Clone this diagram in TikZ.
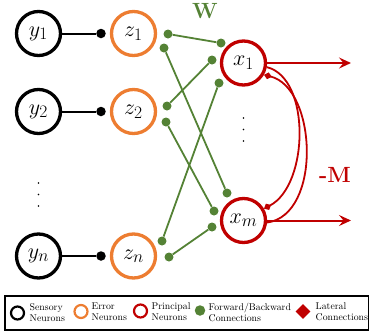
\documentclass[tikz,border=0pt]{standalone}
\usepackage{fix-cm}
\DeclareMathSizes{22}{22}{17.5}{14}
\usetikzlibrary{arrows.meta,shapes.geometric}
\definecolor{errorc}{HTML}{ED7D31}
\definecolor{greenc}{HTML}{548235}
\definecolor{redc}{HTML}{C00000}
\begin{document}
\begin{tikzpicture}[x=1pt,y=-1pt,
  neuron/.style={circle,draw,line width=3.3pt,minimum size=44pt,inner sep=0pt,font=\fontsize{22}{26}\selectfont},
  sens/.style={neuron,draw=black},
  err/.style={neuron,draw=errorc},
  prin/.style={neuron,draw=redc},
  bkline/.style={draw=black,line width=2pt},
  bkdot/.style={circle,fill=black,inner sep=0pt,minimum size=9.5pt},
  ffline/.style={draw=greenc,line width=1.8pt},
  ffdot/.style={circle,fill=greenc,inner sep=0pt,minimum size=9pt},
  outarrow/.style={draw=redc,line width=2pt,-{Stealth[length=12pt,width=11pt,inset=4.5pt]}},
  latline/.style={draw=redc,line width=1.8pt,-{Diamond[length=8pt,width=7pt]}},
  vdot/.style={circle,fill=black,inner sep=0pt,minimum size=1.9pt},
  lbl/.style={font=\fontsize{22}{26}\selectfont\bfseries},
  legtext/.style={anchor=west,align=left,inner sep=0pt,font=\fontsize{9.8}{11}\selectfont},
  legcirc/.style={circle,draw,line width=2.2pt,minimum size=13pt,inner sep=0pt}
]
\useasboundingbox (0,0) rectangle (370,335);

% neurons
\node[sens] (y1) at (38.5,33.5) {$y_1$};
\node[sens] (y2) at (38.5,111.5) {$y_2$};
\node[sens] (yn) at (38.5,256) {$y_n$};
\node[err] (z1) at (133.5,33.5) {$z_1$};
\node[err] (z2) at (133.5,111.5) {$z_2$};
\node[err] (zn) at (133.5,256) {$z_n$};
\node[prin] (x1) at (243.5,63) {$x_1$};
\node[prin] (xm) at (243.5,220.5) {$x_m$};

% vertical dots
\node[vdot] (l1) at (38.5,183) {};
\node[vdot] (l2) at (38.5,194.5) {};
\node[vdot] (l3) at (38.5,206) {};
\node[vdot] (m1) at (243.5,118) {};
\node[vdot] (m2) at (243.5,129.5) {};
\node[vdot] (m3) at (243.5,141) {};

% sensory -> error
\node[bkdot] (k1) at (101,33.5) {};
\node[bkdot] (k2) at (101,111.5) {};
\node[bkdot] (kn) at (101,256) {};
\draw[bkline] (y1.east) -- (k1);
\draw[bkline] (y2.east) -- (k2);
\draw[bkline] (yn.east) -- (kn);

% forward/backward connections
\node[ffdot] (a1) at (168,34) {};
\node[ffdot] (a2) at (164,48) {};
\node[ffdot] (c1) at (167,106) {};
\node[ffdot] (c2) at (166,122) {};
\node[ffdot] (e1) at (162,241) {};
\node[ffdot] (e2) at (169,257) {};
\node[ffdot] (b1) at (221,43) {};
\node[ffdot] (b2) at (212,60) {};
\node[ffdot] (b3) at (219,83) {};
\node[ffdot] (d1) at (227,193) {};
\node[ffdot] (d2) at (214,211) {};
\node[ffdot] (d3) at (212,227) {};
\draw[ffline] (a1) -- (b1);
\draw[ffline] (a2) -- (d1);
\draw[ffline] (c1) -- (b2);
\draw[ffline] (c2) -- (d2);
\draw[ffline] (e1) -- (b3);
\draw[ffline] (e2) -- (d3);

% outputs
\coordinate (o1) at (351,63);
\coordinate (om) at (351,220.5);
\draw[outarrow] (x1.east) -- (o1);
\draw[outarrow] (xm.east) -- (om);

% lateral connections
\draw[latline] (x1.-10) .. controls (311,78) and (309,185) .. (xm.30);
\draw[latline] (xm.-5) .. controls (322,215) and (317,88) .. (x1.-30);

% labels
\node[lbl,text=greenc] (W) at (205,11) {W};
\node[lbl,text=redc] (M) at (335,175) {-M};

% legend
\draw[line width=1.6pt] (5,296) rectangle (368.5,330);
\node[legcirc,draw=black] (s1) at (17.5,313) {};
\node[legtext] (s1t) at (29.5,313) {Sensory\\Neurons};
\node[legcirc,draw=errorc] (s2) at (81,311.5) {};
\node[legtext] (s2t) at (91.5,312) {Error\\Neurons};
\node[legcirc,draw=redc] (s3) at (140.5,311) {};
\node[legtext] (s3t) at (151.5,312) {Principal\\Neurons};
\node[circle,fill=greenc,inner sep=0pt,minimum size=10.5pt] (s4) at (200,310.5) {};
\node[legtext] (s4t) at (208.5,312) {Forward/Backward\\Connections};
\node[diamond,fill=redc,inner sep=0pt,minimum size=15pt] (s5) at (303,311.5) {};
\node[legtext] (s5t) at (315.5,312) {Lateral\\Connections};
\end{tikzpicture}
\end{document}
